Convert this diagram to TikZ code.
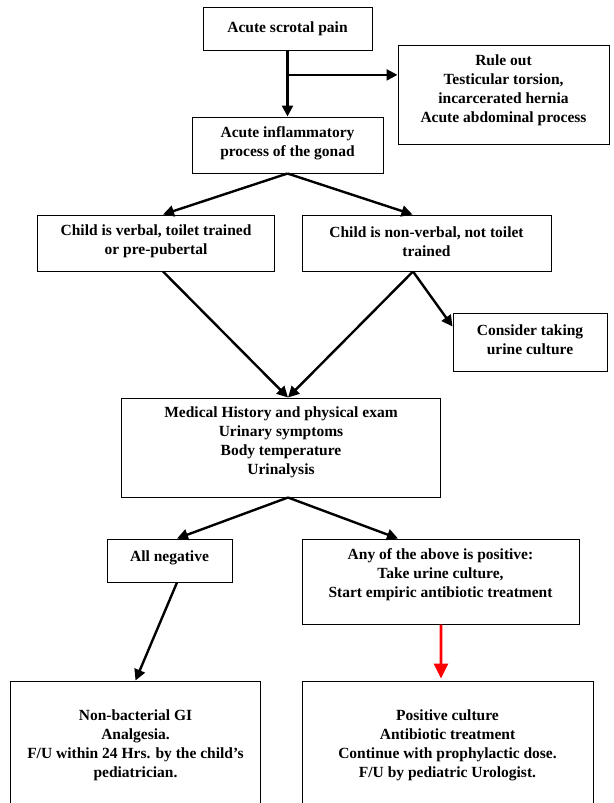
\documentclass[tikz,border=0pt]{standalone}
\usepackage{fontspec}
\setmainfont{Liberation Serif}
\usetikzlibrary{arrows.meta,calc}
\begin{document}
\begin{tikzpicture}[x=1bp,y=-1bp,
  box/.style={draw,line width=1bp,rectangle,inner sep=0pt},
  txt/.style={align=center,font=\fontsize{15.5bp}{19bp}\selectfont\bfseries,inner sep=0pt},
  arr/.style={line width=2.4bp,-{Triangle[length=11bp,width=11bp]}},
  redarr/.style={red,line width=2.6bp,-{Triangle[length=15bp,width=14bp]}}]
\useasboundingbox (0,0) rectangle (614,803);
\clip (0,0) rectangle (614,803);
\fill[white] (0,0) rectangle (614,803);
% boxes
\node[box,minimum width=169bp,minimum height=43bp] (pain) at (287.5,29.5) {};
\node[box,minimum width=211bp,minimum height=98bp] (rule) at (503.5,95) {};
\node[box,minimum width=191bp,minimum height=56bp] (inflam) at (287.5,145) {};
\node[box,minimum width=236bp,minimum height=56bp] (verbal) at (156,243) {};
\node[box,minimum width=249bp,minimum height=56bp] (nonverbal) at (426.5,243) {};
\node[box,minimum width=154bp,minimum height=58bp] (consider) at (530,342) {};
\node[box,minimum width=318bp,minimum height=99bp] (medical) at (281,447.5) {};
\node[box,minimum width=125bp,minimum height=43bp] (allneg) at (169.5,560.5) {};
\node[box,minimum width=277bp,minimum height=85bp] (any) at (440.5,581.5) {};
\node[box,minimum width=249bp,minimum height=130bp] (nonbact) at (135.5,746) {};
\node[box,minimum width=291bp,minimum height=130bp] (poscult) at (447.5,746) {};
% texts
\node[txt] (painT) at (287.5,28.5) {Acute scrotal pain};
\node[txt] (ruleT) at (503.5,90.5) {Rule out\\Testicular torsion,\\incarcerated hernia\\Acute abdominal process};
\node[txt] (inflamT) at (287.5,143.5) {Acute inflammatory\\process of the gonad};
\node[txt] (verbalT) at (156,241.5) {Child is verbal, toilet trained\\or pre-pubertal};
\node[txt] (nonverbalT) at (426.5,241.5) {Child is non-verbal, not toilet\\trained};
\node[txt] (considerT) at (530,340) {Consider taking\\urine culture};
\node[txt] (medicalT) at (281,442.5) {Medical History and physical exam\\Urinary symptoms\\Body temperature\\Urinalysis};
\node[txt] (allnegT) at (169.5,557.5) {All negative};
\node[txt] (anyT) at (440.5,575) {Any of the above is positive:\\Take urine culture,\\Start empiric antibiotic treatment};
\node[txt] (nonbactT) at (135.5,745) {Non-bacterial GI\\Analgesia.\\F/U within 24 Hrs. by the child's\\pediatrician.};
\node[txt] (poscultT) at (447.5,745) {Positive culture\\Antibiotic treatment\\Continue with prophylactic dose.\\F/U by pediatric Urologist.};
% connectors
\coordinate (br) at ($(pain.south)!0.36!(inflam.north)$);
\draw[arr] (pain.south) -- (inflam.north);
\draw[arr] (br) -- (br -| rule.west);
\draw[arr] (inflam.south) -- ($(verbal.north)+(7,0)$);
\draw[arr] (inflam.south) -- ($(nonverbal.north)+(-14,0)$);
\draw[arr] ($(verbal.south)+(7,0)$) -- ($(medical.north)+(7,0)$);
\draw[arr] ($(nonverbal.south)+(-13.5,0)$) -- ($(medical.north)+(7,0)$);
\draw[arr] ($(nonverbal.south)+(-13.5,0)$) -- ($(consider.north west)+(0,14)$);
\draw[arr] ($(medical.south)+(7,0)$) -- ($(allneg.north)+(7.5,0)$);
\draw[arr] ($(medical.south)+(7,0)$) -- ($(any.north)+(-42.5,0)$);
\draw[arr] ($(allneg.south)+(7.5,0)$) -- (nonbact.north);
\draw[redarr] ($(any.south)+(0.5,0)$) -- ($(poscult.north)+(-6.5,-2)$);
\end{tikzpicture}
\end{document}
